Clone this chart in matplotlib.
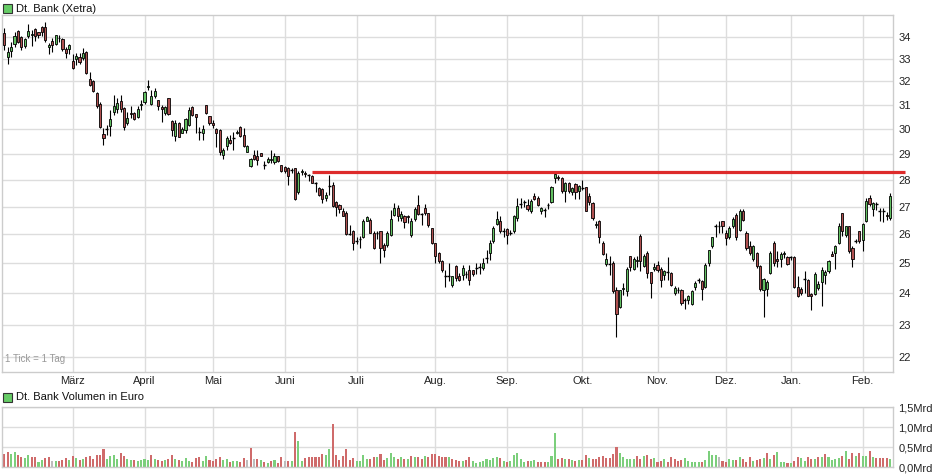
import matplotlib
matplotlib.use("Agg")
import matplotlib.pyplot as plt
from matplotlib.patches import Rectangle
from matplotlib.ticker import FixedLocator, NullLocator, NullFormatter
import numpy as np

plt.rcParams['font.family'] = ['Liberation Sans', 'DejaVu Sans']

# ---------------- data ----------------
opens = [34.16, 33.09, 33.35, 33.65, 34.26, 34.00, 33.59, 34.05, 34.10, 34.35,
         34.20, 34.46, 34.46, 33.52, 33.80, 33.65, 33.93, 33.90, 33.43, 33.43,
         32.90, 32.99, 33.06, 33.05, 33.29, 32.11, 32.02, 31.49, 31.02, 29.80,
         29.97, 30.10, 30.71, 30.82, 31.17, 30.86, 30.23, 30.64, 30.67, 30.50,
         31.00, 31.13, 31.76, 31.02, 31.38, 31.20, 30.90, 30.67, 31.28, 30.34,
         29.72, 30.26, 29.85, 29.96, 30.17, 30.91, 30.61, 29.90, 29.85, 30.99,
         30.53, 30.26, 29.99, 29.96, 28.96, 29.32, 29.56, 29.62, 29.85, 30.06,
         29.76, 29.09, 28.53, 28.96, 28.90, 29.02, 28.58, 28.67, 28.75, 28.67,
         28.92, 28.57, 28.50, 28.44, 28.38, 28.44, 27.53, 28.30, 28.24, 28.20,
         28.15, 27.90, 27.68, 27.64, 27.31, 27.77, 27.81, 27.18, 27.06, 26.82,
         26.78, 26.02, 26.10, 25.79, 25.82, 25.90, 26.49, 26.52, 26.06, 26.05,
         26.12, 25.63, 25.63, 25.98, 26.70, 26.94, 26.58, 26.66, 26.66, 25.98,
         26.54, 27.06, 26.74, 26.94, 26.76, 26.22, 25.69, 25.35, 25.09, 24.57,
         24.55, 24.28, 24.89, 24.58, 24.61, 24.63, 24.76, 24.76, 24.82, 24.86,
         24.83, 25.16, 25.35, 25.75, 26.37, 26.49, 26.13, 26.18, 26.05, 26.12,
         26.58, 27.09, 27.17, 27.06, 26.85, 27.37, 27.31, 26.82, 26.87, 27.05,
         27.18, 28.06, 28.10, 28.06, 27.56, 27.87, 27.52, 27.84, 27.56, 27.67,
         27.72, 27.37, 27.12, 26.33, 26.49, 25.71, 24.98, 24.97, 25.02, 24.11,
         23.55, 24.15, 24.06, 25.23, 24.80, 25.08, 25.94, 24.91, 25.34, 24.69,
         24.80, 24.94, 24.80, 24.61, 24.68, 24.67, 24.02, 24.10, 24.11, 23.80,
         23.77, 23.66, 24.22, 24.44, 24.39, 24.22, 25.00, 25.58, 26.27, 26.31,
         26.46, 26.06, 25.90, 26.30, 26.70, 26.16, 26.85, 26.04, 25.58, 25.14,
         25.34, 24.91, 24.11, 24.13, 24.67, 25.69, 25.14, 25.14, 25.33, 25.21,
         25.20, 25.21, 24.20, 24.13, 24.46, 24.45, 23.98, 23.98, 24.17, 24.36,
         24.61, 24.72, 25.32, 25.34, 25.69, 26.76, 25.98, 26.28, 25.52, 25.77,
         26.10, 25.81, 26.46, 27.31, 26.90, 27.09, 26.86, 26.83, 26.70, 26.58]
highs = [34.39, 33.55, 33.74, 34.23, 34.31, 34.05, 33.93, 34.58, 34.31, 34.39,
         34.23, 34.50, 34.70, 33.70, 33.93, 34.08, 34.08, 33.93, 33.55, 33.65,
         33.20, 33.25, 33.25, 33.47, 33.35, 32.40, 32.07, 31.56, 31.10, 30.03,
         30.17, 30.79, 31.42, 31.27, 31.42, 30.89, 30.68, 30.93, 30.71, 30.93,
         31.20, 31.59, 32.07, 31.63, 31.71, 31.20, 31.00, 30.94, 31.28, 30.37,
         30.37, 30.30, 30.07, 30.45, 30.89, 30.94, 30.62, 30.07, 30.17, 31.00,
         30.55, 30.37, 30.03, 29.99, 29.23, 29.70, 29.76, 29.89, 29.96, 30.12,
         30.03, 29.36, 28.83, 29.16, 29.14, 29.03, 28.74, 28.87, 29.16, 29.05,
         28.93, 28.58, 28.53, 28.50, 28.44, 28.46, 28.32, 28.40, 28.32, 28.22,
         28.19, 27.93, 27.72, 27.68, 27.52, 28.19, 27.93, 27.22, 27.10, 26.94,
         26.82, 26.34, 26.16, 25.90, 25.94, 26.54, 26.64, 26.58, 26.10, 26.12,
         26.12, 25.69, 26.12, 26.88, 27.12, 27.06, 26.82, 26.70, 26.70, 26.58,
         27.00, 27.43, 26.78, 27.10, 26.78, 26.24, 25.71, 25.37, 25.11, 24.76,
         25.00, 24.58, 24.94, 24.67, 24.94, 24.72, 24.94, 24.78, 25.00, 25.00,
         25.17, 25.46, 25.81, 26.28, 26.82, 26.64, 26.22, 26.22, 26.16, 26.70,
         27.31, 27.31, 27.25, 27.27, 27.27, 27.50, 27.40, 27.00, 26.94, 27.14,
         27.77, 28.28, 28.19, 28.10, 27.93, 27.93, 27.72, 27.89, 27.81, 27.99,
         27.74, 27.50, 27.15, 26.46, 26.52, 25.75, 25.35, 25.25, 25.06, 24.22,
         24.11, 24.34, 24.88, 25.25, 25.21, 25.25, 26.01, 25.32, 25.40, 24.71,
         25.00, 25.09, 24.87, 24.78, 25.21, 24.69, 24.25, 24.22, 24.13, 23.84,
         23.95, 24.11, 24.39, 24.50, 24.45, 25.00, 25.46, 25.92, 26.37, 26.46,
         26.47, 26.16, 26.28, 26.61, 26.76, 26.90, 26.90, 26.10, 25.75, 25.63,
         25.37, 24.94, 24.50, 24.45, 25.40, 25.75, 25.40, 25.37, 25.40, 25.25,
         25.25, 25.25, 24.58, 24.20, 24.72, 24.47, 24.02, 24.69, 24.39, 24.87,
         24.78, 25.11, 25.40, 25.63, 26.40, 26.78, 26.30, 26.30, 25.58, 25.83,
         26.13, 26.40, 27.31, 27.43, 27.18, 27.15, 26.94, 26.94, 26.80, 27.50]
lows = [33.40, 32.75, 33.09, 33.55, 33.70, 33.40, 33.47, 33.93, 33.59, 33.80,
        33.93, 34.05, 33.77, 33.20, 33.32, 33.62, 33.77, 33.35, 33.05, 33.20,
        32.55, 32.72, 32.75, 32.95, 32.31, 31.78, 31.56, 30.88, 30.03, 29.36,
        29.76, 29.70, 30.57, 30.64, 30.68, 29.96, 30.17, 30.44, 30.37, 30.44,
        30.79, 31.02, 31.63, 30.99, 31.27, 30.79, 30.30, 30.57, 30.57, 29.72,
        29.53, 29.69, 29.83, 29.85, 30.10, 30.53, 29.85, 29.56, 29.56, 30.62,
        30.17, 30.03, 29.29, 28.96, 28.80, 29.16, 29.40, 29.16, 29.80, 29.69,
        29.29, 29.06, 28.48, 28.77, 28.57, 28.90, 28.40, 28.63, 28.63, 28.61,
        28.70, 28.28, 28.25, 27.81, 28.25, 27.25, 27.48, 28.18, 28.10, 27.95,
        27.87, 27.52, 27.37, 27.12, 27.19, 27.43, 26.97, 26.64, 26.76, 26.64,
        25.98, 25.98, 25.46, 25.67, 25.52, 25.86, 26.46, 26.04, 25.48, 25.83,
        25.02, 25.21, 25.57, 25.94, 26.66, 26.49, 26.46, 26.22, 26.40, 25.90,
        26.49, 26.70, 26.34, 26.70, 26.25, 25.67, 25.02, 25.00, 24.69, 24.20,
        24.39, 24.20, 24.39, 24.39, 24.42, 24.50, 24.28, 24.56, 24.64, 24.64,
        24.78, 25.00, 25.11, 25.71, 26.34, 26.04, 25.90, 25.67, 25.98, 26.06,
        26.46, 26.94, 26.97, 26.82, 26.78, 27.25, 27.02, 26.73, 26.61, 26.90,
        27.12, 27.87, 27.99, 27.50, 27.18, 27.50, 27.43, 27.27, 27.27, 27.62,
        26.82, 27.06, 26.52, 26.22, 25.69, 25.29, 24.89, 24.61, 24.00, 22.63,
        23.52, 23.95, 23.92, 24.72, 24.76, 24.87, 24.72, 24.87, 24.50, 23.84,
        24.72, 24.69, 24.20, 24.45, 24.45, 24.25, 23.95, 24.00, 23.63, 23.49,
        23.66, 23.63, 24.09, 24.34, 23.77, 24.17, 24.91, 25.52, 25.92, 26.04,
        26.04, 25.63, 25.83, 26.22, 25.81, 26.13, 26.49, 25.46, 25.29, 25.09,
        24.83, 24.06, 23.24, 23.92, 24.65, 24.89, 24.87, 24.87, 25.17, 24.94,
        25.11, 24.17, 23.88, 23.95, 24.00, 23.90, 23.47, 23.95, 24.11, 23.58,
        24.31, 24.67, 25.23, 24.80, 25.67, 25.94, 25.91, 25.34, 24.87, 25.69,
        25.69, 25.40, 26.42, 27.02, 26.64, 26.88, 26.46, 26.42, 26.50, 26.52]
closes = [33.62, 33.29, 33.52, 34.05, 33.77, 33.52, 33.90, 34.26, 34.13, 34.05,
          34.08, 34.23, 33.85, 33.62, 33.62, 34.08, 33.95, 33.43, 33.28, 33.62,
          32.58, 33.11, 32.84, 33.25, 32.35, 31.85, 31.59, 30.96, 30.06, 29.63,
          29.99, 30.40, 30.96, 31.06, 30.83, 30.06, 30.44, 30.61, 30.41, 30.82,
          31.03, 31.53, 31.79, 31.39, 31.59, 30.93, 30.82, 30.89, 30.61, 29.96,
          30.26, 29.69, 29.99, 30.40, 30.79, 30.57, 30.48, 29.88, 29.99, 30.64,
          30.26, 30.17, 29.83, 29.09, 29.16, 29.65, 29.45, 29.64, 29.88, 29.72,
          29.32, 29.32, 28.80, 28.80, 28.77, 28.92, 28.56, 28.80, 28.78, 28.92,
          28.74, 28.32, 28.32, 28.14, 28.36, 27.27, 28.26, 28.33, 28.20, 28.18,
          27.89, 27.88, 27.43, 27.27, 27.43, 27.79, 27.02, 26.97, 26.90, 26.66,
          26.01, 26.00, 25.69, 25.77, 25.84, 26.48, 26.61, 26.06, 25.52, 26.07,
          25.52, 25.46, 26.04, 26.54, 26.94, 26.66, 26.73, 26.42, 26.62, 26.48,
          26.90, 26.73, 26.72, 26.76, 26.34, 25.69, 25.25, 25.06, 24.78, 24.55,
          24.57, 24.56, 24.50, 24.45, 24.83, 24.65, 24.42, 24.64, 24.84, 24.87,
          25.02, 25.18, 25.69, 26.22, 26.54, 26.10, 26.11, 25.98, 26.07, 26.66,
          27.02, 27.11, 27.18, 26.90, 27.22, 27.27, 27.06, 26.94, 26.89, 27.07,
          27.74, 28.22, 28.08, 27.56, 27.89, 27.59, 27.68, 27.52, 27.77, 27.69,
          26.82, 27.18, 26.58, 26.35, 25.90, 25.32, 25.14, 24.99, 24.06, 23.34,
          24.09, 24.18, 24.80, 24.87, 25.14, 25.10, 25.06, 25.23, 24.67, 24.34,
          24.87, 24.78, 24.45, 24.72, 24.70, 24.28, 24.17, 24.12, 23.68, 23.78,
          23.90, 24.08, 24.33, 24.46, 24.13, 24.94, 25.44, 25.90, 26.29, 26.29,
          26.28, 25.86, 26.22, 26.54, 25.90, 26.85, 26.52, 25.52, 25.34, 25.58,
          24.91, 24.13, 24.47, 24.36, 25.34, 25.00, 25.06, 25.32, 25.35, 24.98,
          25.22, 24.22, 23.90, 24.02, 24.48, 23.92, 23.90, 24.65, 24.31, 24.76,
          24.69, 25.06, 25.25, 25.60, 26.28, 26.10, 26.28, 25.40, 25.14, 25.79,
          25.75, 26.37, 27.22, 27.10, 27.12, 27.11, 26.84, 26.81, 26.66, 27.37]
volumes = [0.33, 0.39, 0.33, 0.39, 0.31, 0.26, 0.24, 0.31, 0.27, 0.27,
           0.14, 0.18, 0.24, 0.25, 0.16, 0.16, 0.16, 0.18, 0.24, 0.18,
           0.29, 0.24, 0.18, 0.21, 0.27, 0.29, 0.21, 0.31, 0.31, 0.46,
           0.21, 0.29, 0.31, 0.21, 0.35, 0.29, 0.21, 0.18, 0.18, 0.16,
           0.18, 0.22, 0.18, 0.31, 0.21, 0.18, 0.16, 0.18, 0.21, 0.31,
           0.21, 0.18, 0.16, 0.24, 0.16, 0.14, 0.24, 0.27, 0.16, 0.29,
           0.18, 0.16, 0.21, 0.27, 0.18, 0.21, 0.14, 0.16, 0.16, 0.14,
           0.24, 0.18, 0.49, 0.22, 0.21, 0.18, 0.14, 0.10, 0.16, 0.18,
           0.10, 0.27, 0.16, 0.16, 0.16, 0.875, 0.66, 0.16, 0.24, 0.27,
           0.25, 0.27, 0.27, 0.33, 0.31, 0.46, 1.075, 0.31, 0.18, 0.28,
           0.46, 0.18, 0.24, 0.16, 0.16, 0.31, 0.22, 0.22, 0.27, 0.27,
           0.33, 0.18, 0.24, 0.35, 0.27, 0.21, 0.27, 0.21, 0.21, 0.28,
           0.27, 0.25, 0.22, 0.28, 0.27, 0.33, 0.33, 0.28, 0.27, 0.25,
           0.25, 0.21, 0.18, 0.16, 0.16, 0.18, 0.27, 0.16, 0.10, 0.125,
           0.16, 0.21, 0.18, 0.24, 0.27, 0.24, 0.16, 0.125, 0.16, 0.31,
           0.35, 0.21, 0.125, 0.16, 0.16, 0.18, 0.125, 0.125, 0.125, 0.125,
           0.29, 0.85, 0.21, 0.24, 0.21, 0.21, 0.18, 0.16, 0.18, 0.18,
           0.31, 0.24, 0.21, 0.22, 0.27, 0.29, 0.24, 0.24, 0.33, 0.52,
           0.35, 0.27, 0.21, 0.21, 0.21, 0.28, 0.21, 0.29, 0.31, 0.22,
           0.24, 0.14, 0.16, 0.21, 0.14, 0.27, 0.21, 0.16, 0.18, 0.24,
           0.16, 0.125, 0.125, 0.125, 0.125, 0.18, 0.41, 0.31, 0.31, 0.27,
           0.16, 0.125, 0.21, 0.18, 0.18, 0.27, 0.21, 0.14, 0.27, 0.16,
           0.18, 0.21, 0.24, 0.35, 0.21, 0.31, 0.39, 0.125, 0.125, 0.10,
           0.10, 0.16, 0.27, 0.24, 0.16, 0.27, 0.22, 0.22, 0.27, 0.27,
           0.325, 0.27, 0.18, 0.22, 0.24, 0.29, 0.41, 0.21, 0.35, 0.29,
           0.35, 0.29, 0.29, 0.41, 0.27, 0.24, 0.24, 0.24, 0.24, 0.21]

month_labels = ['März', 'April', 'Mai', 'Juni', 'Juli', 'Aug.', 'Sep.', 'Okt.',
                'Nov.', 'Dez.', 'Jan.', 'Feb.']
month_start_idx = [20, 41, 61, 82, 103, 126, 147, 169, 191, 211, 230, 251]
price_ticks = [22, 23, 24, 25, 26, 27, 28, 29, 30, 31, 32, 33, 34]
vol_ticks = [0.0, 0.5, 1.0, 1.5]
vol_tick_labels = ['0,0Mrd', '0,5Mrd', '1,0Mrd', '1,5Mrd']
resistance_level = 28.29
resistance_start_idx = 90

# ---------------- styling ----------------
W, H = 935, 476
C_UP = '#62c062'
C_DN = '#b05050'
V_UP = '#7ccf7c'
V_DN = '#cf6b6b'
V_EQ = '#bdbdbd'
GRID = '#dddddd'
FRAME = '#cccccc'

fig = plt.figure(figsize=(W / 100, H / 100), dpi=100)

def px_axes(left, top, right, bottom):
    return fig.add_axes([left / W, 1 - bottom / H, (right - left) / W, (bottom - top) / H])

n = len(closes)
x = np.arange(n)
x0px, step = 4.3, 3.42
xl = (2 - x0px) / step
xr = (893 - x0px) / step

# ---- price panel ----
ax = px_axes(2, 15, 893, 371.5)
ax.set_yscale('log')
ax.set_xlim(xl, xr)
ax.set_ylim(21.58, 35.02)
ax.yaxis.set_major_locator(FixedLocator(price_ticks))
ax.yaxis.set_minor_locator(NullLocator())
ax.yaxis.set_minor_formatter(NullFormatter())
ax.set_yticklabels([str(t) for t in price_ticks])
ax.yaxis.tick_right()
ax.set_xticks(month_start_idx)
ax.set_xticklabels(month_labels)
ax.tick_params(axis='both', length=0, labelsize=8, colors='#222222')
ax.tick_params(axis='y', pad=4)
ax.tick_params(axis='x', pad=3)
ax.grid(True, color=GRID, linewidth=1.0)
ax.set_axisbelow(True)
for s in ax.spines.values():
    s.set_color(FRAME)
    s.set_linewidth(1.0)

bw = 0.62
for i in range(n):
    o, h, l, c = opens[i], highs[i], lows[i], closes[i]
    ax.vlines(x[i], l, h, color='black', linewidth=0.8, zorder=2, clip_on=False)
    up = c >= o
    lo, hi = (o, c) if up else (c, o)
    if hi - lo < 0.02:
        ax.hlines((lo + hi) / 2, x[i] - bw / 2 - 0.1, x[i] + bw / 2 + 0.1,
                  color='black', linewidth=1.0, zorder=3, clip_on=False)
    else:
        ax.add_patch(Rectangle((x[i] - bw / 2, lo), bw, hi - lo,
                               facecolor=C_UP if up else C_DN,
                               edgecolor='black', linewidth=0.6, zorder=3,
                               clip_on=False))

ax.plot([resistance_start_idx, (905 - x0px) / step], [resistance_level] * 2,
        color='#dd2b2b', linewidth=2.3, solid_capstyle='butt', zorder=4,
        clip_on=False)

ax.text(3 / 891, 0.022, '1 Tick = 1 Tag', transform=ax.transAxes, fontsize=7,
        color='#999999', ha='left', va='bottom')

# legend headers
fig.patches.append(Rectangle((3 / W, 1 - 13 / H), 9 / W, 9 / H, transform=fig.transFigure,
                             facecolor='#66cc66', edgecolor='#333333', linewidth=0.8))
fig.text(16 / W, 1 - 8.5 / H, 'Dt. Bank (Xetra)', fontsize=8, va='center', ha='left',
         color='#111111')
fig.patches.append(Rectangle((3 / W, 1 - 402 / H), 9 / W, 9 / H, transform=fig.transFigure,
                             facecolor='#66cc66', edgecolor='#333333', linewidth=0.8))
fig.text(16 / W, 1 - 397.5 / H, 'Dt. Bank Volumen in Euro', fontsize=8, va='center',
         ha='left', color='#111111')

# ---- volume panel ----
av = px_axes(2, 407.3, 893, 467.3)
av.set_xlim(xl, xr)
av.set_ylim(0, 1.5)
av.set_yticks(vol_ticks)
av.set_yticklabels(vol_tick_labels)
av.yaxis.tick_right()
av.set_xticks(month_start_idx)
av.set_xticklabels([])
av.tick_params(axis='both', length=0, labelsize=8, colors='#222222')
av.tick_params(axis='y', pad=4)
av.grid(True, color=GRID, linewidth=1.0)
av.set_axisbelow(True)
for s in av.spines.values():
    s.set_color(FRAME)
    s.set_linewidth(1.0)

vcols = []
for i in range(n):
    if i == 0:
        vcols.append(V_DN if closes[0] < opens[0] else V_UP)
    elif abs(closes[i] - closes[i - 1]) < 0.005:
        vcols.append(V_EQ)
    elif closes[i] > closes[i - 1]:
        vcols.append(V_UP)
    else:
        vcols.append(V_DN)
av.bar(x, volumes, width=0.6, color=vcols, linewidth=0, zorder=2)

fig.savefig('out.png', dpi=100)
